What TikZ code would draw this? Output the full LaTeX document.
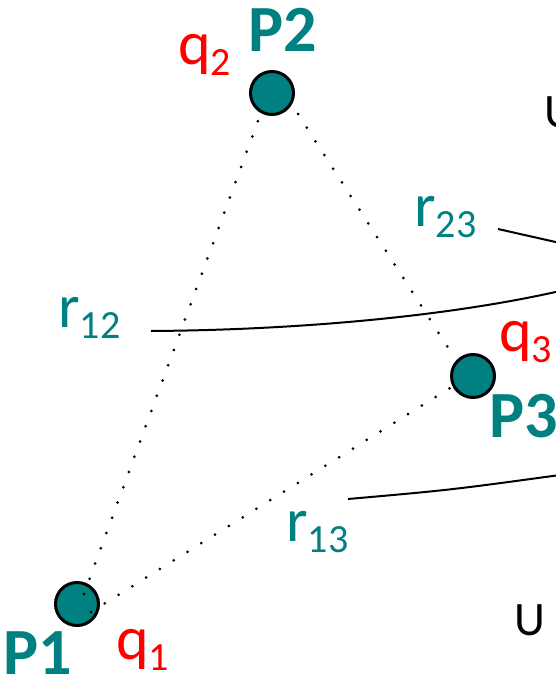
\documentclass[tikz,border=0pt]{standalone}
\usepackage{fontspec}
\setmainfont{Carlito}
\definecolor{pteal}{HTML}{008080}
\definecolor{qred}{HTML}{FF0000}
\newcommand\lowsub[1]{\raisebox{-11pt}{\fontsize{40}{40}\selectfont #1}}
\begin{document}
\begin{tikzpicture}[x=1pt,y=-1pt,
  charge/.style={circle,fill=pteal,draw=black,line width=3pt,minimum size=43pt,inner sep=0pt},
  plabel/.style={anchor=base west,inner sep=0pt,text=pteal,font=\fontsize{66}{66}\selectfont\bfseries},
  qlabel/.style={anchor=base west,inner sep=0pt,text=qred,font=\fontsize{62}{62}\selectfont},
  rlabel/.style={anchor=base west,inner sep=0pt,text=pteal,font=\fontsize{62}{62}\selectfont},
  ulabel/.style={anchor=base west,inner sep=0pt,text=black,font=\fontsize{48}{48}\selectfont},
  dotline/.style={line width=3pt,line cap=round,dash pattern=on 0pt off 16.25pt},
  wire/.style={line width=2pt}]
\clip (0,0) rectangle (556,677);
\useasboundingbox (0,0) rectangle (556,677);
% charges
\node[charge] (P1) at (77,604) {};
\node[charge] (P2) at (272,93) {};
\node[charge] (P3) at (473,376) {};
% labels
\node[plabel] (lP2) at (248,52) {P2};
\node[qlabel] (lq2) at (178,64) {q\lowsub{2}};
\node[plabel] (lP1) at (3,674) {P1};
\node[qlabel] (lq1) at (116,659) {q\lowsub{1}};
\node[plabel] (lP3) at (489,437) {P3};
\node[qlabel] (lq3) at (499,351) {q\lowsub{3}};
\node[rlabel] (lr12) at (58,327) {r\lowsub{12}};
\node[rlabel] (lr23) at (414,226) {r\lowsub{23}};
\node[rlabel] (lr13) at (286,541) {r\lowsub{13}};
\node[ulabel] (uT) at (544,127) {U};
\node[ulabel] (uB) at (514,635) {U};
% dotted distances
\coordinate (d12a) at (84,594);
\coordinate (d12b) at (258,121);
\coordinate (d13a) at (91,612);
\coordinate (d13b) at (450,388);
\coordinate (d23a) at (298,114);
\coordinate (d23b) at (456,360);
\draw[dotline] (d12a) -- (d12b);
\draw[dotline] (d13a) -- (d13b);
\draw[dotline] (d23a) -- (d23b);
% label wires
\coordinate (w12a) at (151,331);
\coordinate (w12b) at (560,291);
\coordinate (w23a) at (498,229);
\coordinate (w23b) at (560,243);
\coordinate (w13a) at (348,499);
\coordinate (w13b) at (560,475);
\draw[wire] (w12a) .. controls (300,330) and (450,316) .. (w12b);
\draw[wire] (w23a) -- (w23b);
\draw[wire] (w13a) .. controls (450,490) .. (w13b);
\end{tikzpicture}
\end{document}
